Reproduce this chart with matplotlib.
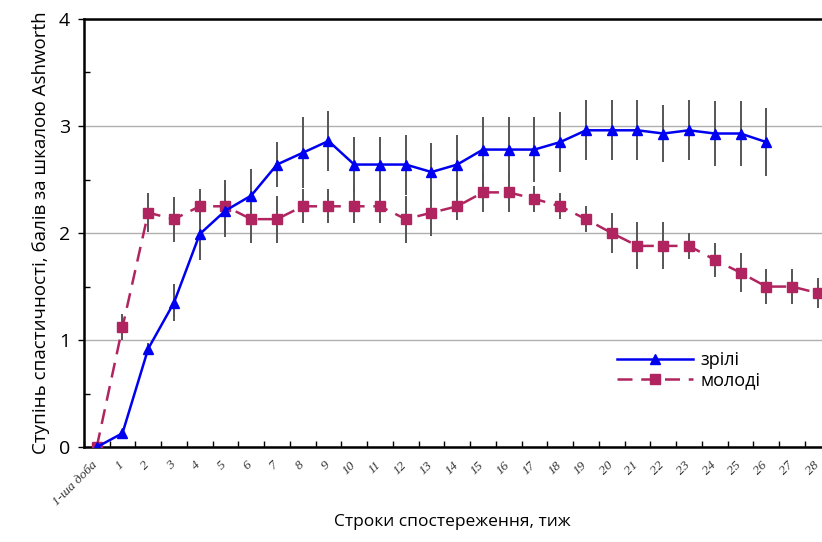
import matplotlib.pyplot as plt
from matplotlib.ticker import MultipleLocator
from matplotlib.transforms import ScaledTranslation

plt.rcParams['font.family'] = ['Open Sans', 'DejaVu Sans']

week_labels = ['1-ша доба'] + [str(i) for i in range(1, 29)]

mature = [0.0, 0.13, 0.92, 1.35, 1.99, 2.21, 2.35, 2.64, 2.75, 2.86, 2.64, 2.64, 2.64,
          2.57, 2.64, 2.78, 2.78, 2.78, 2.85, 2.96, 2.96, 2.96, 2.93, 2.96, 2.93, 2.93, 2.85]
mature_err = [0.0, 0.03, 0.05, 0.17, 0.24, 0.25, 0.25, 0.21, 0.33, 0.28, 0.26, 0.26, 0.28,
              0.27, 0.28, 0.30, 0.30, 0.30, 0.28, 0.28, 0.28, 0.28, 0.27, 0.28, 0.30, 0.30, 0.32]

young = [0.0, 1.12, 2.19, 2.13, 2.25, 2.25, 2.13, 2.13, 2.25, 2.25, 2.25, 2.25, 2.13, 2.19,
         2.25, 2.38, 2.38, 2.32, 2.25, 2.13, 2.0, 1.88, 1.88, 1.88, 1.75, 1.63, 1.5, 1.5, 1.44]
young_err = [0.0, 0.12, 0.18, 0.21, 0.16, 0.25, 0.22, 0.22, 0.16, 0.16, 0.16, 0.16, 0.22, 0.22,
             0.13, 0.18, 0.18, 0.12, 0.12, 0.12, 0.19, 0.22, 0.22, 0.12, 0.16, 0.18, 0.16, 0.16, 0.14]

blue = '#0000f0'
magenta = '#b0245f'

fig = plt.figure(figsize=(8.22, 5.42), dpi=100)
ax = fig.add_axes([0.102, 0.175, 0.9085, 0.79])

x_m = list(range(len(mature)))
x_y = list(range(len(young)))

ax.errorbar(x_m, mature, yerr=mature_err, fmt='none', ecolor='#555555', elinewidth=1.4, zorder=2)
ax.errorbar(x_y, young, yerr=young_err, fmt='none', ecolor='#555555', elinewidth=1.4, zorder=2)
ax.plot(x_m, mature, color=blue, lw=1.8, marker='^', markersize=7.5, label='зрілі', zorder=4)
ax.plot(x_y, young, color=magenta, lw=1.8, ls=(0, (6, 3.5)), marker='s', markersize=6.5,
        label='молоді', zorder=3)

ax.set_xlim(-0.5, 28.5)
ax.set_ylim(0, 4)
ax.yaxis.set_major_locator(MultipleLocator(1))
ax.yaxis.set_minor_locator(MultipleLocator(0.5))
ax.grid(axis='y', which='major', color='#b0b0b0', lw=1)
ax.set_axisbelow(True)

# category labels, rotated, drawn a little left of each point like the original
ax.set_xticks([])
ax.set_xticks([i + 0.5 for i in range(-1, 28)], minor=True)
shift = ScaledTranslation(-5 / 100, -12 / 100, fig.dpi_scale_trans)
for i, lab in enumerate(week_labels):
    ax.text(i, 0, lab, transform=ax.get_xaxis_transform() + shift,
            rotation=45, ha='right', va='top', rotation_mode='anchor',
            family='Liberation Serif', style='italic', fontsize=9.5, color='#333333')

ax.tick_params(axis='x', which='minor', direction='in', length=4, width=1)
ax.tick_params(axis='y', which='major', length=4, width=1, labelsize=14, pad=6)
ax.tick_params(axis='y', which='minor', direction='in', length=4, width=1)

for s in ax.spines.values():
    s.set_linewidth(1.8)

ax.set_ylabel('Ступінь спастичності, балів за шкалою Ashworth', fontsize=13.5, labelpad=6)
fig.text(0.55, 0.03, 'Строки спостереження, тиж', ha='center', fontsize=12.5)

ax.legend(loc='upper left', bbox_to_anchor=(0.742, 0.365), bbox_transform=fig.transFigure,
          frameon=False, fontsize=13, handlelength=4.2, handletextpad=0.4,
          labelspacing=0.1, borderaxespad=0)

fig.savefig('out.png', dpi=100)
